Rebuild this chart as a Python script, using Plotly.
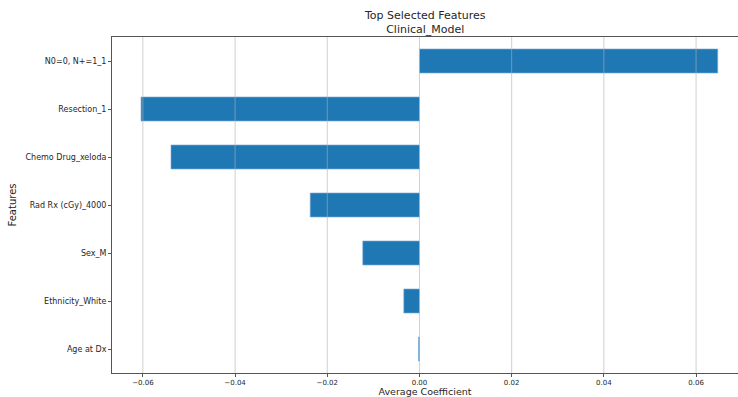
import plotly.graph_objects as go

# Average coefficients of the selected clinical features (top to bottom)
features = [
    "N0=0, N+=1_1",
    "Resection_1",
    "Chemo Drug_xeloda",
    "Rad Rx (cGy)_4000",
    "Sex_M",
    "Ethnicity_White",
    "Age at Dx",
]
coefficients = [0.0647, -0.0604, -0.0539, -0.0237, -0.0123, -0.0034, -0.0002]
tick_values = [-0.06, -0.04, -0.02, 0.0, 0.02, 0.04, 0.06]
tick_labels = ["\u22120.06", "\u22120.04", "\u22120.02", "0.00", "0.02", "0.04", "0.06"]

FONT = "DejaVu Sans"
TEXT = "#262626"
BLUE = "#1f77b4"
GRID = "rgba(176,176,176,0.6)"

fig = go.Figure(
    go.Bar(
        x=coefficients,
        y=features,
        orientation="h",
        width=0.5,
        marker=dict(color=BLUE, line=dict(color="rgba(120,170,215,0.8)", width=0.8)),
    )
)

# grid lines drawn over the bars
for v in tick_values:
    fig.add_shape(
        type="line", xref="x", yref="paper", x0=v, x1=v, y0=0, y1=1,
        line=dict(color=GRID, width=1), layer="above",
    )

fig.update_layout(
    width=738,
    height=397,
    margin=dict(l=112, r=0, t=37, b=24),
    paper_bgcolor="white",
    plot_bgcolor="white",
    showlegend=False,
    font=dict(family=FONT, color=TEXT),
    xaxis=dict(
        range=[-0.0667, 0.0691],
        tickvals=tick_values,
        ticktext=tick_labels,
        tickfont=dict(size=7, family=FONT, color=TEXT),
        ticks="outside",
        ticklen=3,
        tickcolor="#555555",
        showgrid=False,
        zeroline=False,
        showline=True,
        linecolor="#555555",
        linewidth=1,
        mirror=True,
        title=dict(text="Average Coefficient", font=dict(size=9.5, family=FONT, color=TEXT), standoff=2),
    ),
    yaxis=dict(
        categoryorder="array",
        categoryarray=features[::-1],
        range=[-0.5, 6.5],
        tickfont=dict(size=8, family=FONT, color=TEXT),
        ticks="outside",
        ticklen=3,
        tickcolor="#555555",
        showgrid=False,
        zeroline=False,
        showline=True,
        linecolor="#555555",
        linewidth=1,
        title=dict(text="Features", font=dict(size=10, family=FONT, color=TEXT), standoff=6),
    ),
    annotations=[
        dict(
            text="Top Selected Features<br>Clinical_Model",
            xref="paper", yref="paper", x=0.5, y=1, xanchor="center", yanchor="bottom",
            yshift=-1, showarrow=False, align="center",
            font=dict(size=11, family=FONT, color=TEXT),
        )
    ],
)

fig.write_html("out.html")
